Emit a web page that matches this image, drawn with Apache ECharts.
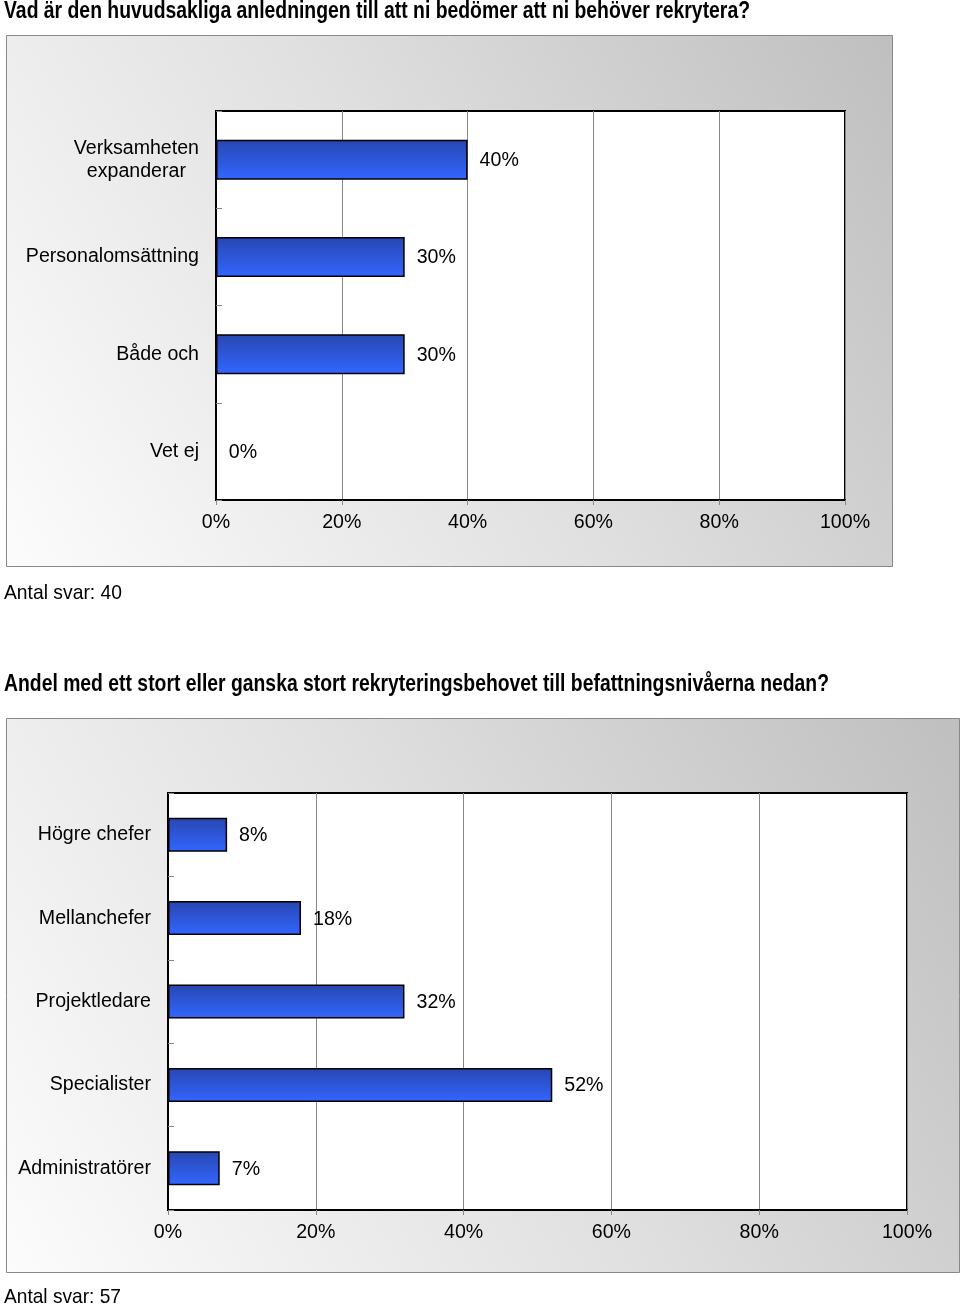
<!DOCTYPE html>
<html><head><meta charset="utf-8">
<script src="https://cdn.jsdelivr.net/npm/echarts@6/dist/echarts.min.js"></script>
<style>html,body{margin:0;padding:0;background:#fff}#c{width:960px;height:1308px}</style>
</head><body><div id="c"></div>
<script>
const title1 = 'Vad är den huvudsakliga anledningen till att ni bedömer att ni behöver rekrytera?';
const title2 = 'Andel med ett stort eller ganska stort rekryteringsbehovet till befattningsnivåerna nedan?';
const note1 = 'Antal svar: 40';
const note2 = 'Antal svar: 57';
const cats1 = ['Verksamheten\nexpanderar', 'Personalomsättning', 'Både och', 'Vet ej'];
const vals1 = [40, 30, 30, 0];
const cats2 = ['Högre chefer', 'Mellanchefer', 'Projektledare', 'Specialister', 'Administratörer'];
const vals2 = [8, 18, 32, 52, 7];
const ticks = [0, 20, 40, 60, 80, 100];

const FONT = '"Liberation Sans", Arial, sans-serif';
const FS = 19.6;
const chart = echarts.init(document.getElementById('c'), null, {renderer: 'canvas'});

const mctx = document.createElement('canvas').getContext('2d');
function narrowText(text, font, x, y, targetW) {
  mctx.font = font;
  const w = mctx.measureText(text).width;
  return {type: 'text', x: x, y: y, scaleX: targetW / w, style: {text: text, font: font, fill: '#000', verticalAlign: 'top'}};
}

const barGrad = new echarts.graphic.LinearGradient(0, 0, 0, 1, [
  {offset: 0, color: '#2746b0'}, {offset: 1, color: '#3366ff'}
]);
const panelGrad = () => new echarts.graphic.LinearGradient(0, 1, 1, 0, [
  {offset: 0, color: '#fcfcfc'}, {offset: 0.5, color: '#e0e0e0'}, {offset: 1, color: '#bfbfbf'}
]);

function valueAxis(gi) {
  return {
    type: 'value', gridIndex: gi, min: 0, max: 100, interval: 20,
    axisLine: {show: true, lineStyle: {color: '#000', width: 2}},
    axisTick: {show: true, length: 5, lineStyle: {color: '#888'}},
    splitLine: {show: true, lineStyle: {color: '#888', width: 1}},
    axisLabel: {formatter: v => ticks.includes(v) ? v + '%' : '', fontFamily: FONT, fontSize: FS, color: '#000', margin: 13}
  };
}
function catAxis(gi, cats) {
  return {
    type: 'category', gridIndex: gi, data: cats, inverse: true,
    axisLine: {show: true, lineStyle: {color: '#000', width: 2}},
    axisTick: {show: true, inside: true, length: 6, lineStyle: {color: '#888'}},
    splitLine: {show: false},
    axisLabel: {fontFamily: FONT, fontSize: FS, color: '#000', margin: 17, lineHeight: 23,
      formatter: v => '{a|' + v + '}',
      rich: {a: {fontFamily: FONT, fontSize: FS, color: '#000', lineHeight: 23, align: 'center'}}}
  };
}
function barSeries(gi, vals, w) {
  return {
    type: 'bar', xAxisIndex: gi, yAxisIndex: gi, data: vals, barWidth: w,
    itemStyle: {color: barGrad, borderColor: '#000', borderWidth: 1.5},
    label: {show: true, position: 'right', distance: 12, formatter: '{c}%', fontFamily: FONT, fontSize: FS, color: '#000', offset: [0, 1]}
  };
}

chart.setOption({
  animation: false,
  graphic: [
    {type: 'rect', z: -100, shape: {x: 6.5, y: 35.5, width: 886, height: 531}, style: {fill: panelGrad(), stroke: '#888', lineWidth: 1}},
    {type: 'rect', z: -100, shape: {x: 6.5, y: 718.5, width: 953, height: 554}, style: {fill: panelGrad(), stroke: '#888', lineWidth: 1}},
    narrowText(title1, 'bold 24px "Liberation Sans"', 4, -1, 746),
    narrowText(note1, '21px "Liberation Sans"', 4, 583, 118),
    narrowText(title2, 'bold 24px "Liberation Sans"', 4, 672, 825),
    narrowText(note2, '21px "Liberation Sans"', 4, 1287, 117)
  ],
  grid: [
    {left: 216, top: 111, width: 629, height: 389, show: true, backgroundColor: '#fff', borderColor: '#000', borderWidth: 2, containLabel: false},
    {left: 168, top: 793, width: 739, height: 417, show: true, backgroundColor: '#fff', borderColor: '#000', borderWidth: 2, containLabel: false}
  ],
  xAxis: [valueAxis(0), valueAxis(1)],
  yAxis: [catAxis(0, cats1), catAxis(1, cats2)],
  series: [barSeries(0, vals1, 40), barSeries(1, vals2, 34)]
});
</script></body></html>
